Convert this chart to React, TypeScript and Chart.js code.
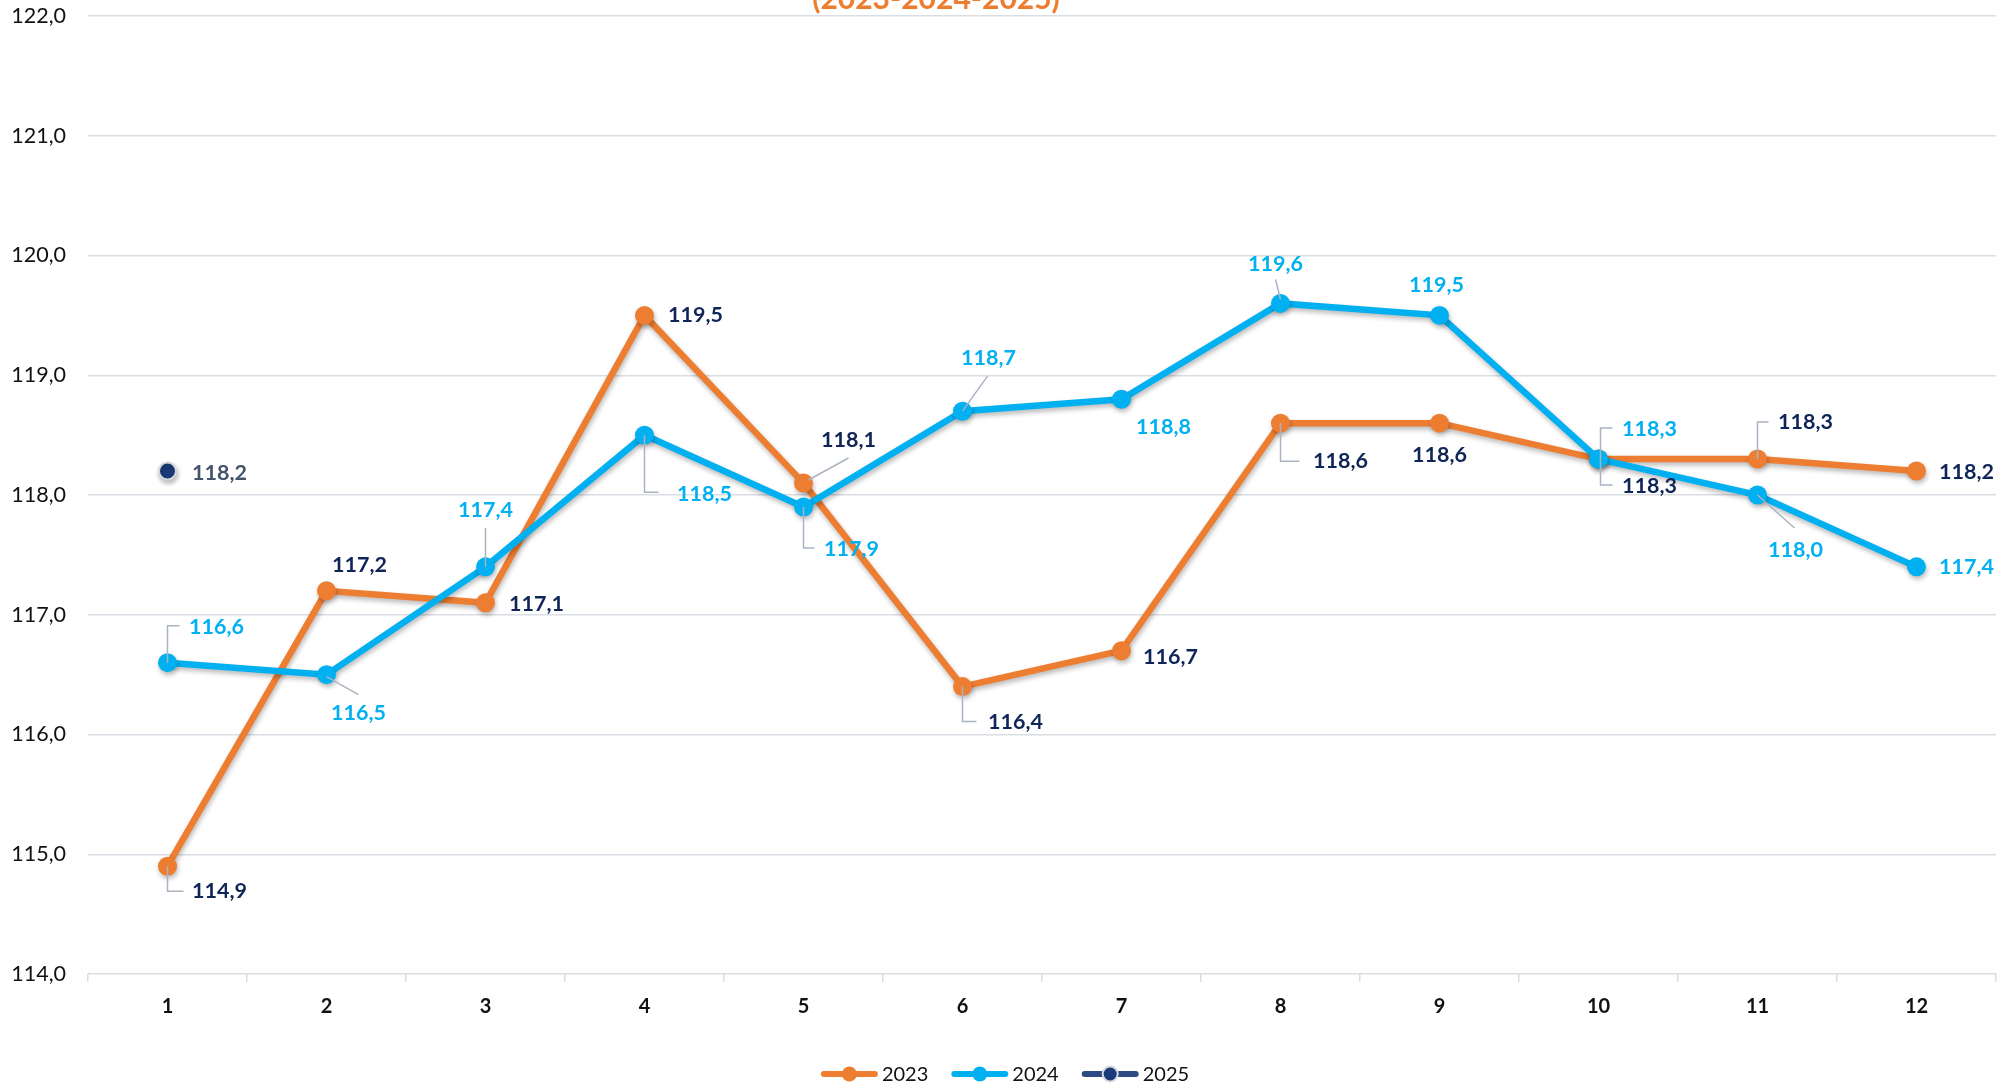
import React, { useEffect, useRef } from "react";
import { Chart, registerables } from "chart.js";

Chart.register(...registerables);

// ---- Data ----
const months = ["1", "2", "3", "4", "5", "6", "7", "8", "9", "10", "11", "12"];
const seriesNames = ["2023", "2024", "2025"];
const values2023 = [114.9, 117.2, 117.1, 119.5, 118.1, 116.4, 116.7, 118.6, 118.6, 118.3, 118.3, 118.2];
const values2024 = [116.6, 116.5, 117.4, 118.5, 117.9, 118.7, 118.8, 119.6, 119.5, 118.3, 118.0, 117.4];
const values2025 = [118.2, null, null, null, null, null, null, null, null, null, null, null];
const yMin = 114;
const yMax = 122;
const yStep = 1;
const titleText = "(2023-2024-2025)";

// ---- Label placement (offsets from point, leader polyline relative to point) ----
type Place = { dx: number; dy: number; lead?: number[][] };
const place2023: Place[] = [
  { dx: 52, dy: 25, lead: [[0, 0], [0, 25], [16, 25]] },
  { dx: 33, dy: -26 },
  { dx: 51, dy: 1 },
  { dx: 51, dy: 0 },
  { dx: 45, dy: -43, lead: [[5, -3], [45, -25]] },
  { dx: 53, dy: 35, lead: [[0, 0], [0, 35], [14, 35]] },
  { dx: 49, dy: 6 },
  { dx: 60, dy: 38, lead: [[0, 0], [0, 38], [19, 38]] },
  { dx: 0, dy: 32 },
  { dx: 51, dy: 27, lead: [[2, 0], [2, 26], [14, 26]] },
  { dx: 48, dy: -37, lead: [[0, 0], [0, -37], [11, -37]] },
  { dx: 50, dy: 1 },
];
const place2024: Place[] = [
  { dx: 49, dy: -36, lead: [[0, 0], [0, -37], [12, -37]] },
  { dx: 32, dy: 38, lead: [[0, 2], [32, 20]] },
  { dx: 0, dy: -57, lead: [[0, 0], [0, -39]] },
  { dx: 60, dy: 59, lead: [[0, 0], [0, 57], [14, 57]] },
  { dx: 48, dy: 42, lead: [[0, 0], [0, 41], [11, 41]] },
  { dx: 26, dy: -53, lead: [[0, 0], [25, -35]] },
  { dx: 42, dy: 28 },
  { dx: -5, dy: -39, lead: [[0, -4], [-5, -24]] },
  { dx: -3, dy: -30 },
  { dx: 51, dy: -30, lead: [[2, 0], [2, -31], [14, -31]] },
  { dx: 38, dy: 55, lead: [[0, 0], [37, 33]] },
  { dx: 50, dy: 0 },
];
const place2025: Place[] = [{ dx: 52, dy: 2 }];

const COLORS = {
  orange: "#ED7D31",
  blue: "#00B0F0",
  navy: "#1C3A78",
  navyLine: "#2E4A82",
  darkLabel: "#0F2557",
  slate: "#44546A",
  grid: "#D9DEE4",
  leader: "#A9B3C1",
};

const FONT = "Lato, 'Noto Sans', sans-serif";

const fmt = (v: number) => v.toFixed(1).replace(".", ",");

const shadowPlugin = {
  id: "shadowPlugin",
  beforeDatasetDraw(chart: any) {
    const ctx = chart.ctx;
    ctx.save();
    ctx.shadowColor = "rgba(0,0,0,0.28)";
    ctx.shadowBlur = 5;
    ctx.shadowOffsetX = 1;
    ctx.shadowOffsetY = 3;
  },
  afterDatasetDraw(chart: any) {
    chart.ctx.restore();
  },
};

const labelPlugin = {
  id: "labelPlugin",
  afterDatasetsDraw(chart: any) {
    const ctx = chart.ctx;
    const places = [place2023, place2024, place2025];
    const colors = [COLORS.darkLabel, COLORS.blue, COLORS.slate];
    ctx.save();
    ctx.font = `bold 21.5px ${FONT}`;
    ctx.textAlign = "center";
    ctx.textBaseline = "middle";
    chart.data.datasets.forEach((ds: any, di: number) => {
      const meta = chart.getDatasetMeta(di);
      meta.data.forEach((el: any, i: number) => {
        const v = ds.data[i];
        if (v === null || v === undefined) return;
        const p = places[di][i];
        if (!p) return;
        const x = el.x;
        const y = el.y;
        if (p.lead) {
          ctx.beginPath();
          ctx.strokeStyle = COLORS.leader;
          ctx.lineWidth = 1.5;
          p.lead.forEach((pt, k) => {
            if (k === 0) ctx.moveTo(x + pt[0], y + pt[1]);
            else ctx.lineTo(x + pt[0], y + pt[1]);
          });
          ctx.stroke();
        }
        ctx.fillStyle = colors[di];
        ctx.fillText(fmt(v), x + p.dx, y + p.dy);
      });
    });
    ctx.restore();
  },
};

const titleLegendPlugin = {
  id: "titleLegendPlugin",
  afterDraw(chart: any) {
    const ctx = chart.ctx;
    ctx.save();
    // Title (partially cut at the top)
    ctx.font = `bold 30px ${FONT}`;
    ctx.fillStyle = COLORS.orange;
    ctx.textAlign = "center";
    ctx.textBaseline = "alphabetic";
    ctx.fillText(titleText, 936, 9);

    // Legend
    ctx.font = `20px ${FONT}`;
    const lineLen = 57;
    const gapText = 4;
    const gapItem = 23;
    const lineColors = [COLORS.orange, COLORS.blue, COLORS.navyLine];
    const pointColors = [COLORS.orange, COLORS.blue, COLORS.navy];
    const widths = seriesNames.map((n) => ctx.measureText(n).width);
    const total =
      widths.reduce((a, w) => a + lineLen + gapText + w, 0) + gapItem * (seriesNames.length - 1);
    let x = 1005 - total / 2;
    const y = 1074;
    seriesNames.forEach((n, i) => {
      ctx.beginPath();
      ctx.strokeStyle = lineColors[i];
      ctx.lineWidth = 6;
      ctx.lineCap = "round";
      ctx.moveTo(x + 3, y);
      ctx.lineTo(x + lineLen - 3, y);
      ctx.stroke();
      ctx.beginPath();
      ctx.arc(x + lineLen / 2, y, 7.5, 0, Math.PI * 2);
      ctx.fillStyle = pointColors[i];
      ctx.fill();
      if (i === 2) {
        ctx.lineWidth = 2;
        ctx.strokeStyle = "#D5D8DD";
        ctx.stroke();
      }
      ctx.fillStyle = "#111111";
      ctx.textAlign = "left";
      ctx.textBaseline = "middle";
      ctx.fillText(n, x + lineLen + gapText, y + 1);
      x += lineLen + gapText + widths[i] + gapItem;
    });
    ctx.restore();
  },
};

export default function App() {
  const canvasRef = useRef<HTMLCanvasElement | null>(null);

  useEffect(() => {
    if (!canvasRef.current) return;
    const chart = new Chart(canvasRef.current, {
      type: "line",
      data: {
        labels: months,
        datasets: [
          {
            label: seriesNames[0],
            data: values2023,
            borderColor: COLORS.orange,
            backgroundColor: COLORS.orange,
            pointBackgroundColor: COLORS.orange,
            pointBorderWidth: 0,
            pointRadius: 9.5,
            borderWidth: 6.5,
            tension: 0,
            order: 2,
          },
          {
            label: seriesNames[1],
            data: values2024,
            borderColor: COLORS.blue,
            backgroundColor: COLORS.blue,
            pointBackgroundColor: COLORS.blue,
            pointBorderWidth: 0,
            pointRadius: 9.5,
            borderWidth: 6.5,
            tension: 0,
            order: 1,
          },
          {
            label: seriesNames[2],
            data: values2025 as any,
            borderColor: COLORS.navyLine,
            backgroundColor: COLORS.navy,
            pointBackgroundColor: COLORS.navy,
            pointBorderColor: "#D5D8DD",
            pointBorderWidth: 2,
            pointRadius: 8.5,
            borderWidth: 6,
            tension: 0,
            order: 0,
          },
        ],
      },
      options: {
        responsive: false,
        animation: false,
        devicePixelRatio: 1,
        layout: { padding: { left: 0, top: 0, right: 15, bottom: 0 } },
        plugins: {
          legend: { display: false },
          title: { display: false },
          tooltip: { enabled: false },
        },
        scales: {
          x: {
            type: "category",
            offset: true,
            grid: {
              display: true,
              offset: true,
              drawOnChartArea: false,
              drawTicks: true,
              tickLength: 8,
              color: COLORS.grid,
              lineWidth: 1.5,
            },
            border: { display: false },
            ticks: {
              padding: 13,
              color: "#111111",
              font: { family: FONT, size: 20, weight: "bold" },
              maxRotation: 0,
            },
            afterFit(scale: any) {
              scale.height = 114;
            },
          },
          y: {
            min: yMin,
            max: yMax,
            grid: {
              color: COLORS.grid,
              lineWidth: 1.5,
              drawTicks: false,
            },
            border: { display: false },
            ticks: {
              stepSize: yStep,
              padding: 22,
              color: "#111111",
              font: { family: FONT, size: 21.5 },
              callback: (v: any) => fmt(Number(v)),
            },
            afterFit(scale: any) {
              scale.width = 88;
              scale.paddingTop = 16;
              scale.paddingBottom = 0;
            },
          },
        },
      },
      plugins: [shadowPlugin, labelPlugin, titleLegendPlugin],
    });
    return () => chart.destroy();
  }, []);

  return (
    <div style={{ position: "absolute", left: 0, top: 0, width: 2011, height: 1088, background: "#ffffff" }}>
      <canvas ref={canvasRef} width={2011} height={1088} style={{ display: "block", width: 2011, height: 1088 }} />
    </div>
  );
}
